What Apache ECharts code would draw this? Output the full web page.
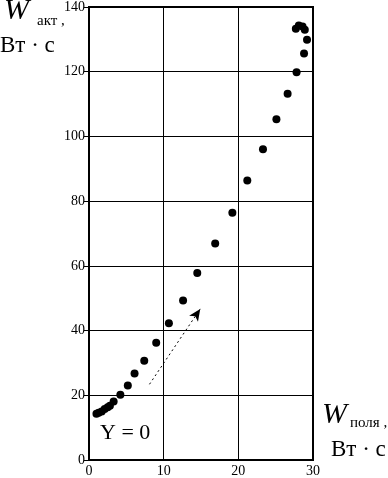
<!DOCTYPE html>
<html><head><meta charset="utf-8">
<script src="https://cdn.jsdelivr.net/npm/echarts@6/dist/echarts.min.js"></script>
<style>html,body{margin:0;padding:0;background:#fff}#c{width:388px;height:478px}</style>
</head><body><div id="c"></div>
<script>
var xTicks = [0, 10, 20, 30];
var yTicks = [0, 20, 40, 60, 80, 100, 120, 140];
var wField = [1.0, 1.3, 1.7, 2.1, 2.5, 2.8, 3.3, 4.2, 5.2, 6.1, 7.4, 9.0, 10.7, 12.6, 14.5, 16.9, 19.2, 21.2, 23.3, 25.1, 26.6, 27.8, 28.8, 29.2, 27.7, 28.1, 28.6, 28.9];
var wAct   = [14.3, 14.6, 15.0, 15.8, 16.3, 16.8, 18.1, 20.2, 23.0, 26.7, 30.7, 36.2, 42.3, 49.3, 57.8, 66.9, 76.4, 86.4, 96.0, 105.3, 113.2, 119.8, 125.6, 129.9, 133.3, 134.3, 134.0, 133.0];
var arrowStart = [8.1, 23.4];
var arrowEnd = [14.9, 46.7];
var annotation = 'Y = 0';

var pts = wField.map(function(x, i){ return [x, wAct[i]]; });
var serif = 'Liberation Serif, Times New Roman, serif';
var chart = echarts.init(document.getElementById('c'));
chart.setOption({
  animation: false,
  grid: {left: 89, right: 75, top: 3, bottom: 17, show: true, borderColor: '#000', borderWidth: 2},
  xAxis: {
    type: 'value', min: xTicks[0], max: xTicks[xTicks.length-1], interval: 10,
    axisLine: {lineStyle: {color: '#000', width: 2}},
    axisTick: {show: false},
    splitLine: {show: true, lineStyle: {color: '#000', width: 1}},
    axisLabel: {color: '#000', fontFamily: serif, fontSize: 14, margin: 4,
      formatter: function(v){ return xTicks.indexOf(v) >= 0 ? String(v) : ''; }}
  },
  yAxis: {
    type: 'value', min: yTicks[0], max: yTicks[yTicks.length-1], interval: 20,
    axisLine: {lineStyle: {color: '#000', width: 2}},
    axisTick: {show: true, inside: false, length: 5, lineStyle: {color: '#000', width: 1}},
    splitLine: {show: true, lineStyle: {color: '#000', width: 1}},
    axisLabel: {color: '#000', fontFamily: serif, fontSize: 14, margin: 4,
      formatter: function(v){ return yTicks.indexOf(v) >= 0 ? String(v) : ''; }}
  },
  series: [{
    type: 'scatter', data: pts, symbol: 'circle', symbolSize: 8,
    itemStyle: {color: '#000', opacity: 1},
    markLine: {
      silent: true, symbol: ['none', 'arrow'], symbolSize: [8, 12],
      lineStyle: {color: '#000', type: [2, 3], width: 1, opacity: 1},
      label: {show: false},
      data: [[{coord: arrowStart}, {coord: arrowEnd}]]
    }
  }],
  graphic: [
    {type: 'text', left: 4, top: -4, style: {text: 'W', font: 'italic 30px ' + serif, fill: '#000'}},
    {type: 'text', left: 37, top: 14, style: {text: 'акт ,', font: '15px ' + serif, fill: '#000'}},
    {type: 'text', left: 0, top: 34, style: {text: 'Вт · с', font: '23px ' + serif, fill: '#000'}},
    {type: 'text', left: 322, top: 400, style: {text: 'W', font: 'italic 30px ' + serif, fill: '#000'}},
    {type: 'text', left: 350, top: 416, style: {text: 'поля ,', font: '15px ' + serif, fill: '#000'}},
    {type: 'text', left: 331, top: 438, style: {text: 'Вт · с', font: '23px ' + serif, fill: '#000'}},
    {type: 'text', left: 100, top: 422, style: {text: annotation, font: '22px ' + serif, fill: '#000'}}
  ]
});
</script></body></html>
